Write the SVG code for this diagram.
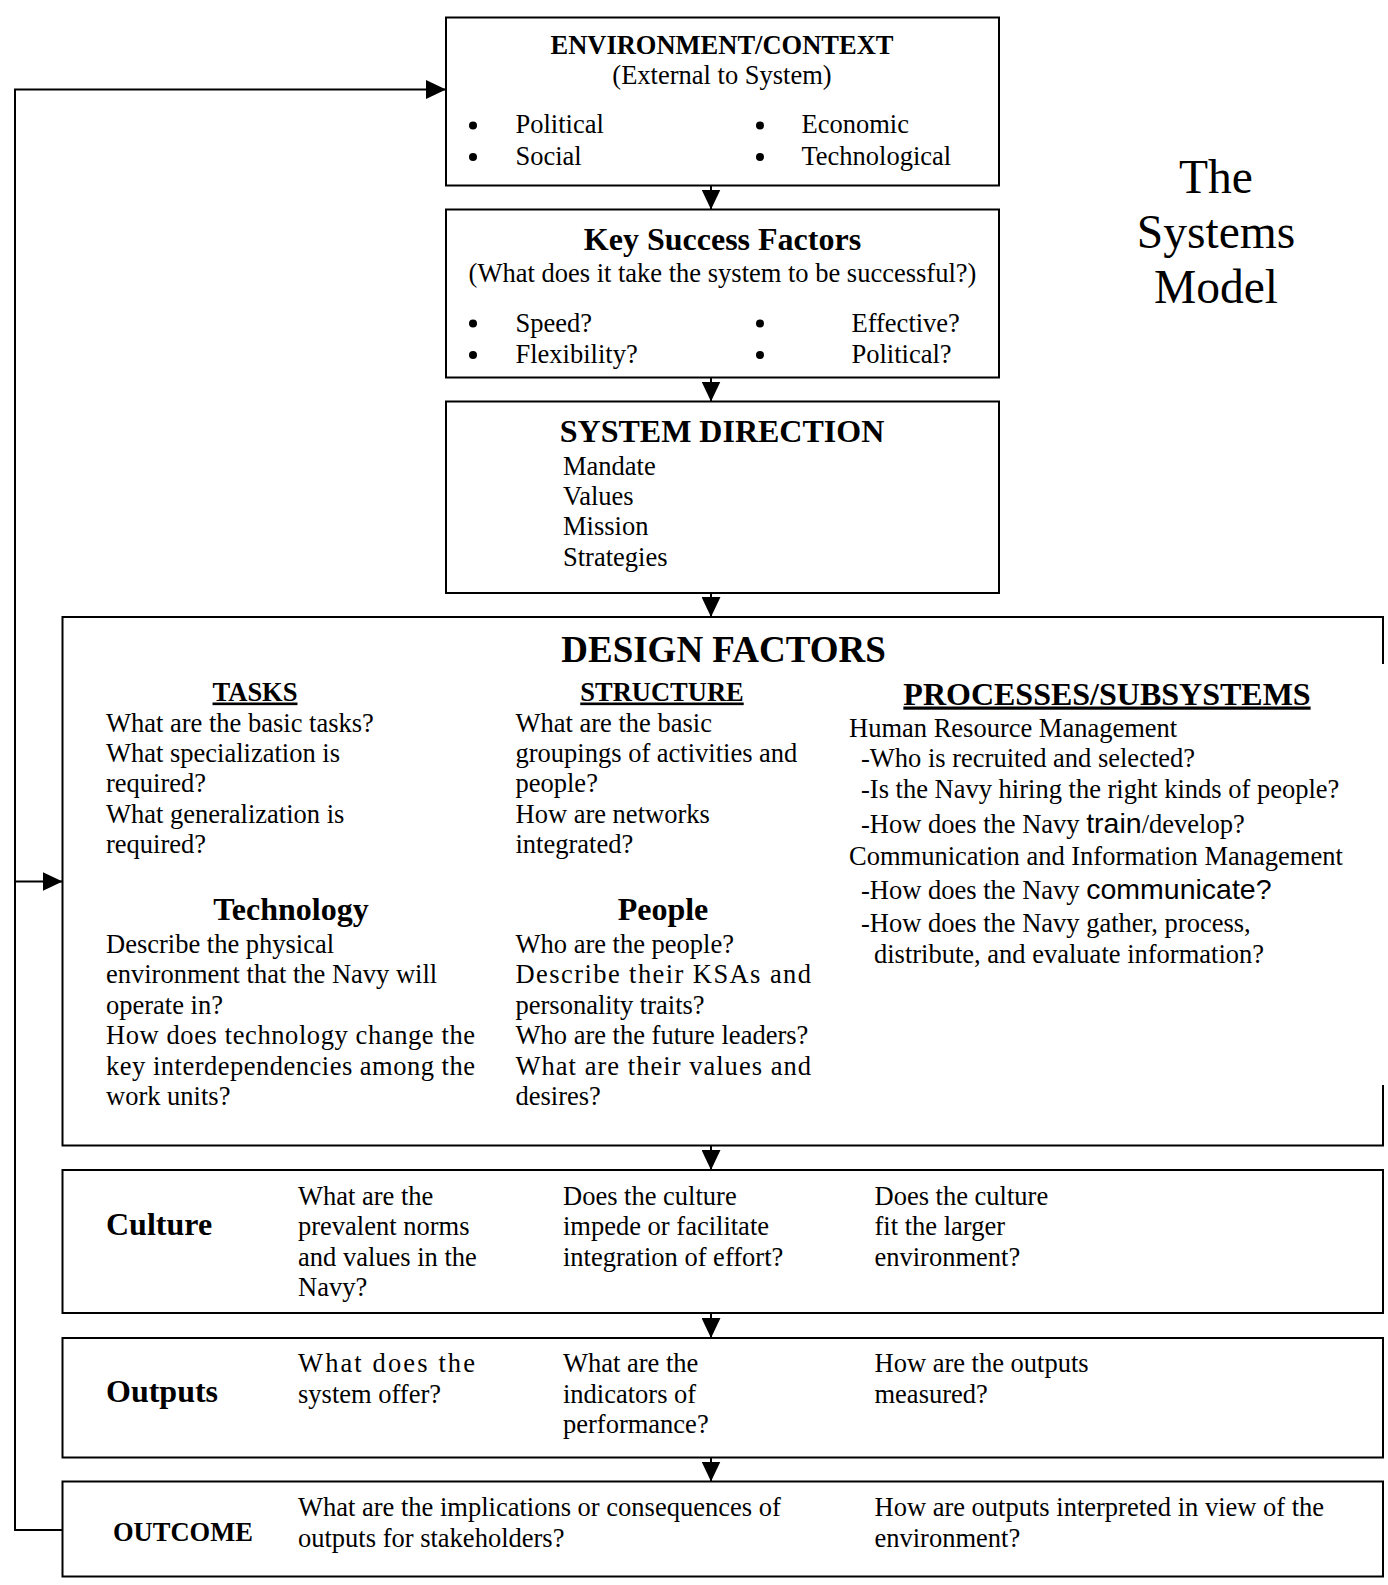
<svg xmlns="http://www.w3.org/2000/svg" width="1388" height="1585" viewBox="0 0 1388 1585">
<style>
.t{font-family:"Liberation Serif","Times New Roman",serif;font-size:26.5px;fill:#000}
.b{font-weight:bold}
.h32{font-size:32px}
.m{text-anchor:middle}
.u{text-decoration:underline}
.s{font-family:"Liberation Sans",Arial,sans-serif;font-size:28.5px}
.box{fill:#fff;stroke:#000;stroke-width:2}
.edge{fill:none;stroke:#000;stroke-width:2}
.conn{fill:none;stroke:#000;stroke-width:2}
</style>
<defs>
<marker id="ah" markerUnits="userSpaceOnUse" markerWidth="20" markerHeight="19" refX="20" refY="9.5" orient="auto">
<path d="M0,0 L20,9.5 L0,19 Z" fill="#000"/>
</marker>
</defs>
<rect width="1388" height="1585" fill="#fff"/>

<g id="title">
<text class="t m" x="1216" y="192.5" style="font-size:47.5px">The</text>
<text class="t m" x="1216" y="247.5" style="font-size:47.5px">Systems</text>
<text class="t m" x="1216" y="302.5" style="font-size:47.5px">Model</text>
</g>

<g id="environment">
<rect class="box" x="446" y="17.5" width="553" height="168"/>
<text class="t b m" x="722" y="54">ENVIRONMENT/CONTEXT</text>
<text class="t m" x="722" y="84">(External to System)</text>
<circle cx="473" cy="125.5" r="4"/><circle cx="473" cy="157" r="4"/>
<circle cx="760" cy="125.5" r="4"/><circle cx="760" cy="157" r="4"/>
<text class="t" x="515.5" y="133">Political</text>
<text class="t" x="515.5" y="164.5">Social</text>
<text class="t" x="801.5" y="133">Economic</text>
<text class="t" x="801.5" y="164.5">Technological</text>
</g>

<g id="key-success-factors">
<rect class="box" x="446" y="209.5" width="553" height="168"/>
<text class="t b h32 m" x="722.5" y="250">Key Success Factors</text>
<text class="t m" x="722.5" y="282">(What does it take the system to be successful?)</text>
<circle cx="473" cy="323.5" r="4"/><circle cx="473" cy="355" r="4"/>
<circle cx="760" cy="323.5" r="4"/><circle cx="760" cy="355" r="4"/>
<text class="t" x="515.5" y="331.5">Speed?</text>
<text class="t" x="515.5" y="363">Flexibility?</text>
<text class="t" x="851.5" y="331.5">Effective?</text>
<text class="t" x="851.5" y="363">Political?</text>
</g>

<g id="system-direction">
<rect class="box" x="446" y="401.5" width="553" height="191.5"/>
<text class="t b h32 m" x="722" y="441.5">SYSTEM DIRECTION</text>
<text class="t" x="563" y="475">Mandate</text>
<text class="t" x="563" y="504.5">Values</text>
<text class="t" x="563" y="535">Mission</text>
<text class="t" x="563" y="565.5">Strategies</text>
</g>

<g id="design-factors">
<rect x="62.5" y="617" width="1320.5" height="528.5" fill="#fff"/>
<path class="edge" d="M1383,664 V617 H62.5 V1145.5 H1383 V1085"/>
<text class="t b m" x="723.5" y="661.5" style="font-size:37px">DESIGN FACTORS</text>
<text class="t b m u" x="255" y="700.5">TASKS</text>
<text class="t b m u" x="662" y="700.5">STRUCTURE</text>
<text class="t b h32 m u" x="1107" y="704.5">PROCESSES/SUBSYSTEMS</text>

<text class="t" x="106" y="731.5">What are the basic tasks?</text>
<text class="t" x="106" y="761.5">What specialization is</text>
<text class="t" x="106" y="792">required?</text>
<text class="t" x="106" y="822.5">What generalization is</text>
<text class="t" x="106" y="853">required?</text>

<text class="t" x="515.5" y="731.5">What are the basic</text>
<text class="t" x="515.5" y="761.5">groupings of activities and</text>
<text class="t" x="515.5" y="792">people?</text>
<text class="t" x="515.5" y="822.5">How are networks</text>
<text class="t" x="515.5" y="853">integrated?</text>

<text class="t" x="849" y="736.5">Human Resource Management</text>
<text class="t" x="861" y="767">-Who is recruited and selected?</text>
<text class="t" x="861" y="797.5">-Is the Navy hiring the right kinds of people?</text>
<text class="t" x="861" y="833">-How does the Navy <tspan class="s">train</tspan>/develop?</text>
<text class="t" x="849" y="865">Communication and Information Management</text>
<text class="t" x="861" y="899">-How does the Navy <tspan class="s">communicate?</tspan></text>
<text class="t" x="861" y="931.5">-How does the Navy gather, process,</text>
<text class="t" x="874" y="963">distribute, and evaluate information?</text>

<text class="t b h32 m" x="291" y="920">Technology</text>
<text class="t b h32 m" x="663" y="920">People</text>

<text class="t" x="106" y="952.5">Describe the physical</text>
<text class="t" x="106" y="983">environment that the Navy will</text>
<text class="t" x="106" y="1013.5">operate in?</text>
<text class="t" x="106" y="1044" textLength="369" lengthAdjust="spacing">How does technology change the</text>
<text class="t" x="106" y="1074.5" textLength="369" lengthAdjust="spacing">key interdependencies among the</text>
<text class="t" x="106" y="1105">work units?</text>

<text class="t" x="515.5" y="952.5">Who are the people?</text>
<text class="t" x="515.5" y="983" textLength="295.5" lengthAdjust="spacing">Describe their KSAs and</text>
<text class="t" x="515.5" y="1013.5">personality traits?</text>
<text class="t" x="515.5" y="1044">Who are the future leaders?</text>
<text class="t" x="515.5" y="1074.5" textLength="295.5" lengthAdjust="spacing">What are their values and</text>
<text class="t" x="515.5" y="1105">desires?</text>
</g>

<g id="culture">
<rect class="box" x="62.5" y="1170" width="1320.5" height="143"/>
<text class="t b h32" x="106" y="1235">Culture</text>
<text class="t" x="298" y="1204.5">What are the</text>
<text class="t" x="298" y="1235">prevalent norms</text>
<text class="t" x="298" y="1265.5">and values in the</text>
<text class="t" x="298" y="1296">Navy?</text>
<text class="t" x="563" y="1204.5">Does the culture</text>
<text class="t" x="563" y="1235">impede or facilitate</text>
<text class="t" x="563" y="1265.5">integration of effort?</text>
<text class="t" x="874.5" y="1204.5">Does the culture</text>
<text class="t" x="874.5" y="1235">fit the larger</text>
<text class="t" x="874.5" y="1265.5">environment?</text>
</g>

<g id="outputs">
<rect class="box" x="62.5" y="1338" width="1320.5" height="119.5"/>
<text class="t b h32" x="106" y="1402">Outputs</text>
<text class="t" x="298" y="1372" textLength="177" lengthAdjust="spacing">What does the</text>
<text class="t" x="298" y="1402.5">system offer?</text>
<text class="t" x="563" y="1372">What are the</text>
<text class="t" x="563" y="1402.5">indicators of</text>
<text class="t" x="563" y="1433">performance?</text>
<text class="t" x="874.5" y="1372">How are the outputs</text>
<text class="t" x="874.5" y="1402.5">measured?</text>
</g>

<g id="outcome">
<rect class="box" x="62.5" y="1481.5" width="1320.5" height="95"/>
<text class="t b" x="113" y="1540.5">OUTCOME</text>
<text class="t" x="298" y="1516">What are the implications or consequences of</text>
<text class="t" x="298" y="1547">outputs for stakeholders?</text>
<text class="t" x="874.5" y="1516">How are outputs interpreted in view of the</text>
<text class="t" x="874.5" y="1547">environment?</text>
</g>

<g id="connectors">
<path class="conn" d="M711,185.5 V209.5" marker-end="url(#ah)"/>
<path class="conn" d="M711,377.5 V401.5" marker-end="url(#ah)"/>
<path class="conn" d="M711,593 V617" marker-end="url(#ah)"/>
<path class="conn" d="M711,1145.5 V1170" marker-end="url(#ah)"/>
<path class="conn" d="M711,1313 V1338" marker-end="url(#ah)"/>
<path class="conn" d="M711,1457.5 V1481.5" marker-end="url(#ah)"/>
<path class="conn" d="M62.5,1530 H15 V89.5 H446" marker-end="url(#ah)"/>
<path class="conn" d="M15,881.5 H62.5" marker-end="url(#ah)"/>
</g>
</svg>
